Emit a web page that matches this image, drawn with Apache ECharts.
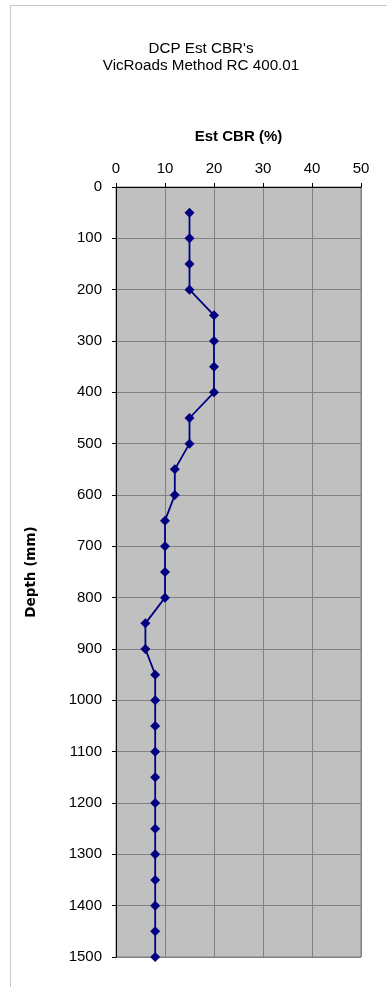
<!DOCTYPE html>
<html>
<head>
<meta charset="utf-8">
<script src="https://cdn.jsdelivr.net/npm/echarts@6/dist/echarts.min.js"></script>
<style>
html,body{margin:0;padding:0;background:#fff;}
#chart{width:387px;height:987px;}
</style>
</head>
<body>
<div id="chart"></div>
<script>
// depth (mm) and estimated CBR (%)
var depths = [50,100,150,200,250,300,350,400,450,500,550,600,650,700,750,800,850,900,950,1000,1050,1100,1150,1200,1250,1300,1350,1400,1450,1500];
var cbr = [15,15,15,15,20,20,20,20,15,15,12,12,10,10,10,10,6,6,8,8,8,8,8,8,8,8,8,8,8,8];
var titleLines = ["DCP Est CBR's", "VicRoads Method RC 400.01"];

var pts = [];
for (var i = 0; i < depths.length; i++) {
	pts.push([cbr[i], depths[i]]);
}

var myChart = echarts.init(document.getElementById('chart'));
var option = {
	backgroundColor: '#fff',
	animation: false,
	title: {
		text: titleLines.join('\n'),
		left: 196,
		top: 35,
		textAlign: 'center',
		textStyle: {
			fontFamily: 'Liberation Sans, Arial',
			fontSize: 15.2,
			fontWeight: 'normal',
			color: '#000',
			lineHeight: 17
		}
	},
	graphic: [
		{ type: 'line', shape: { x1: 10, y1: 5.5, x2: 387, y2: 5.5 }, style: { stroke: '#c8c8c8', lineWidth: 1 } },
		{ type: 'line', shape: { x1: 10.5, y1: 5, x2: 10.5, y2: 987 }, style: { stroke: '#c8c8c8', lineWidth: 1 } }
	],
	grid: {
		left: 116,
		right: 26,
		top: 187,
		bottom: 30,
		show: true,
		backgroundColor: '#C0C0C0',
		borderColor: '#808080',
		borderWidth: 1
	},
	xAxis: {
		type: 'value',
		position: 'top',
		min: 0,
		max: 50,
		interval: 10,
		name: 'Est CBR (%)',
		nameLocation: 'middle',
		nameGap: 43,
		nameTextStyle: { fontFamily: 'Liberation Sans, Arial', fontSize: 15, fontWeight: 'bold', color: '#000' },
		axisLine: { show: true, lineStyle: { color: '#000', width: 1 } },
		axisTick: { show: true, inside: false, length: 4, lineStyle: { color: '#000' } },
		axisLabel: { fontFamily: 'Liberation Sans, Arial', fontSize: 15, color: '#000', margin: 11 },
		splitLine: { show: true, lineStyle: { color: '#808080', width: 1 } }
	},
	yAxis: {
		type: 'value',
		inverse: true,
		min: 0,
		max: 1500,
		interval: 100,
		name: 'Depth (mm)',
		nameLocation: 'middle',
		nameGap: 78,
		nameTextStyle: { fontFamily: 'DejaVu Sans', fontSize: 13.5, fontWeight: 'bold', color: '#000' },
		axisLine: { show: true, lineStyle: { color: '#000', width: 1 } },
		axisTick: { show: true, inside: false, length: 4, lineStyle: { color: '#000' } },
		axisLabel: {
			fontFamily: 'Liberation Sans, Arial', fontSize: 15, color: '#000', margin: 14,
			formatter: function (v) { return String(v); }
		},
		splitLine: { show: true, lineStyle: { color: '#808080', width: 1 } }
	},
	series: [
		{
			name: 'Est CBR',
			type: 'line',
			data: pts,
			symbol: 'diamond',
			symbolSize: 10,
			lineStyle: { color: '#000080', width: 1.8 },
			itemStyle: { color: '#000080' }
		}
	]
};
myChart.setOption(option);
</script>
</body>
</html>
